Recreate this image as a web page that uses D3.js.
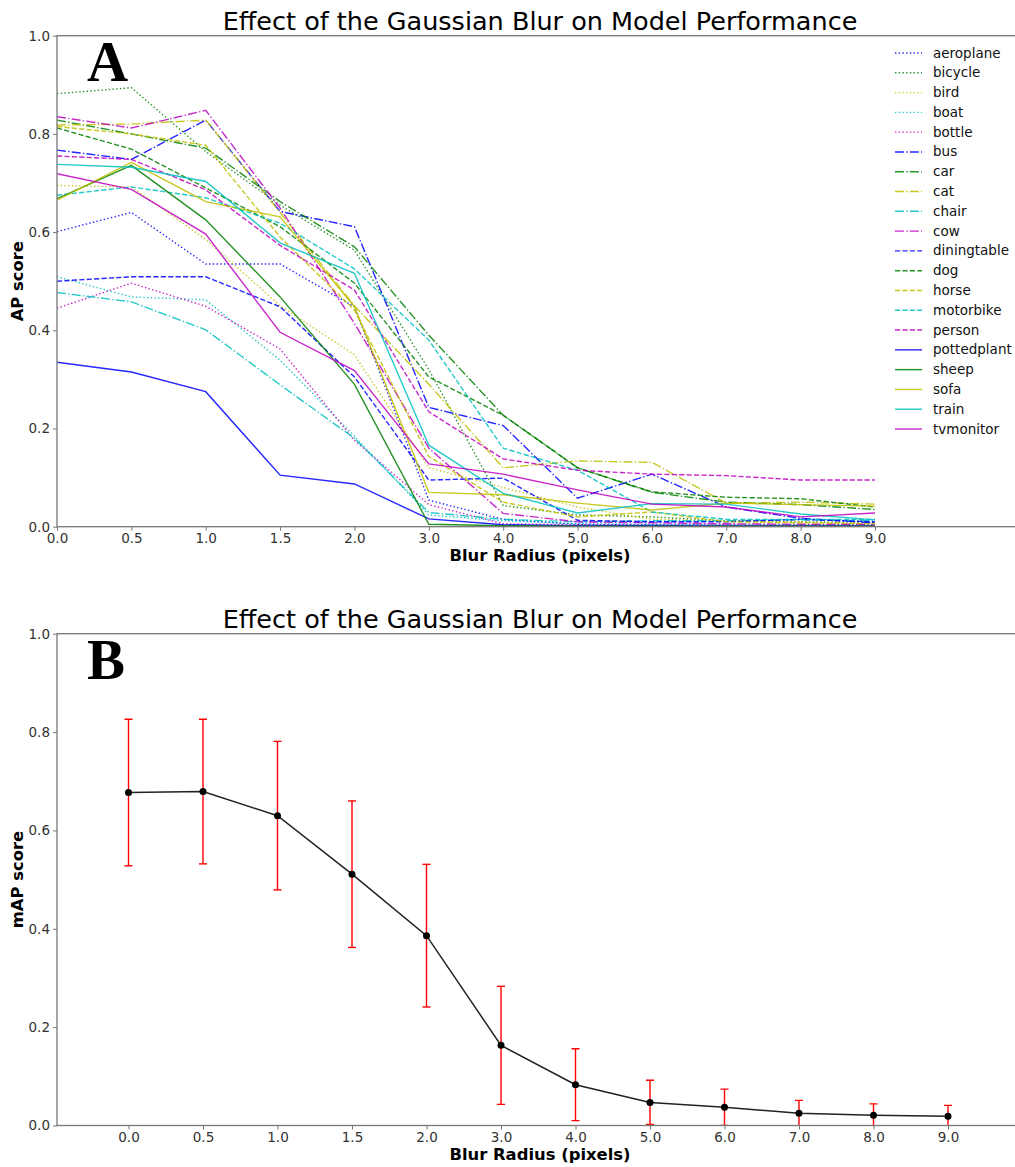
<!DOCTYPE html>
<html>
<head>
<meta charset="utf-8">
<script src="https://cdn.jsdelivr.net/npm/d3@7"></script>
<style>
  html, body { margin: 0; padding: 0; background: #fff; }
  svg { display: block; font-family: "DejaVu Sans", sans-serif; }
</style>
</head>
<body>
<svg id="chart" width="1015" height="1167"></svg>
<script>
// ---------- DATA ----------
const blurLabels = ["0.0","0.5","1.0","1.5","2.0","3.0","4.0","5.0","6.0","7.0","8.0","9.0"];
const yTicks = [0.0, 0.2, 0.4, 0.6, 0.8, 1.0];

const classNames = ["aeroplane","bicycle","bird","boat","bottle","bus","car","cat","chair","cow",
  "diningtable","dog","horse","motorbike","person","pottedplant","sheep","sofa","train","tvmonitor"];

const aeroplane   = [0.601,0.640,0.535,0.535,0.448,0.054,0.015,0.005,0.004,0.003,0.003,0.003];
const bicycle     = [0.882,0.894,0.764,0.655,0.563,0.320,0.043,0.024,0.020,0.012,0.010,0.008];
const bird        = [0.695,0.692,0.585,0.450,0.350,0.120,0.080,0.040,0.015,0.012,0.010,0.008];
const boat        = [0.509,0.468,0.462,0.339,0.184,0.024,0.012,0.006,0.005,0.004,0.004,0.003];
const bottle      = [0.445,0.496,0.449,0.362,0.176,0.045,0.006,0.004,0.003,0.003,0.002,0.002];
const bus         = [0.767,0.748,0.828,0.642,0.611,0.243,0.206,0.058,0.107,0.040,0.017,0.008];
const car         = [0.828,0.800,0.771,0.662,0.570,0.390,0.227,0.120,0.070,0.050,0.045,0.035];
const cat         = [0.818,0.820,0.828,0.640,0.450,0.290,0.120,0.134,0.131,0.048,0.050,0.046];
const chair       = [0.477,0.458,0.401,0.289,0.180,0.029,0.015,0.010,0.012,0.012,0.014,0.012];
const cow         = [0.835,0.812,0.848,0.649,0.414,0.160,0.027,0.010,0.008,0.006,0.005,0.005];
const diningtable = [0.500,0.509,0.509,0.448,0.305,0.095,0.099,0.013,0.010,0.010,0.015,0.010];
const dog         = [0.812,0.769,0.690,0.611,0.496,0.305,0.227,0.120,0.071,0.060,0.057,0.040];
const horse       = [0.815,0.800,0.777,0.590,0.441,0.143,0.050,0.020,0.030,0.010,0.008,0.006];
const motorbike   = [0.675,0.692,0.670,0.618,0.525,0.380,0.160,0.115,0.030,0.015,0.015,0.015];
const person      = [0.755,0.748,0.686,0.573,0.482,0.234,0.138,0.115,0.107,0.104,0.095,0.095];
const pottedplant = [0.335,0.315,0.275,0.105,0.087,0.016,0.004,0.002,0.002,0.001,0.001,0.001];
const sheep       = [0.668,0.736,0.625,0.468,0.290,0.005,0.002,0.001,0.001,0.001,0.001,0.001];
const sofa        = [0.665,0.742,0.662,0.631,0.448,0.070,0.065,0.048,0.034,0.048,0.045,0.042];
const train       = [0.738,0.732,0.703,0.578,0.516,0.166,0.068,0.028,0.047,0.046,0.026,0.014];
const tvmonitor   = [0.719,0.687,0.596,0.396,0.318,0.128,0.107,0.075,0.046,0.040,0.020,0.028];

const seriesValues = [aeroplane,bicycle,bird,boat,bottle,bus,car,cat,chair,cow,
  diningtable,dog,horse,motorbike,person,pottedplant,sheep,sofa,train,tvmonitor];

// panel B: mean AP and standard deviation
const mapMean = [0.677,0.679,0.630,0.511,0.386,0.163,0.083,0.047,0.037,0.025,0.021,0.019];
const mapStd  = [0.149,0.147,0.151,0.149,0.145,0.120,0.073,0.045,0.037,0.026,0.023,0.022];

// ---------- STYLES ----------
const palette = ["#0000ff","#008000","#bfbf00","#00bfbf","#bf00bf"];
const lw = 1.4;
const dashStyles = [
  `${1*lw},${1.65*lw}`,
  `${6.4*lw},${1.6*lw},${1*lw},${1.6*lw}`,
  `${3.7*lw},${1.6*lw}`,
  null
];

const svg = d3.select("#chart");
const spineColor = "#777";
const tickTextColor = "#333";
const title = "Effect of the Gaussian Blur on Model Performance";

function drawPanel(cfg) {
  const g = svg.append("g");
  const x = d3.scalePoint().domain(blurLabels).range(cfg.xRange);
  const y = d3.scaleLinear().domain([0, 1]).range([cfg.bottom, cfg.top]);

  const clipId = "clip" + cfg.id;
  svg.append("clipPath").attr("id", clipId)
    .append("rect").attr("x", cfg.left).attr("y", cfg.top)
    .attr("width", cfg.right - cfg.left).attr("height", cfg.bottom - cfg.top);

  // Title
  g.append("text").attr("x", (cfg.left + cfg.right) / 2).attr("y", cfg.top - 6)
    .attr("text-anchor", "middle").attr("font-size", 25.5).attr("fill", "#000").text(title);

  // axes
  const xAxis = d3.axisBottom(x).tickSize(4).tickSizeOuter(0).tickPadding(3);
  const xa = g.append("g").attr("transform", `translate(0,${cfg.bottom})`).call(xAxis);
  const yAxis = d3.axisLeft(y).tickValues(yTicks).tickFormat(d3.format(".1f")).tickSize(4).tickSizeOuter(0).tickPadding(3);
  const ya = g.append("g").attr("transform", `translate(${cfg.left},0)`).call(yAxis);
  [xa, ya].forEach(a => {
    a.attr("font-family", null).attr("font-size", null);
    a.select(".domain").remove();
    a.selectAll(".tick line").attr("stroke", spineColor).attr("stroke-width", 1);
    a.selectAll(".tick text").attr("font-size", 13.5).attr("fill", tickTextColor);
  });

  const plot = g.append("g").attr("clip-path", `url(#${clipId})`);
  cfg.draw(plot, x, y);

  // spines (left, top, bottom; right falls outside the picture)
  g.append("rect").attr("x", cfg.left).attr("y", cfg.top)
    .attr("width", cfg.right - cfg.left).attr("height", cfg.bottom - cfg.top)
    .attr("fill", "none").attr("stroke", spineColor).attr("stroke-width", 1.3);

  // panel letter
  g.append("text").attr("x", 87).attr("y", cfg.top + 45)
    .style("font-family", "'Liberation Serif', 'DejaVu Serif', serif")
    .attr("font-weight", "bold").attr("font-size", 57).attr("fill", "#000").text(cfg.letter);

  // axis labels
  g.append("text").attr("x", (cfg.left + cfg.right) / 2).attr("y", cfg.bottom + 34)
    .attr("text-anchor", "middle").attr("font-size", 16.4).attr("font-weight", "bold")
    .text("Blur Radius (pixels)");
  g.append("text")
    .attr("transform", `translate(23,${(cfg.top + cfg.bottom) / 2}) rotate(-90)`)
    .attr("text-anchor", "middle").attr("font-size", 16.4).attr("font-weight", "bold")
    .text(cfg.ylabel);
  return {x, y};
}

// ---------- PANEL A ----------
drawPanel({
  id: "A", letter: "A", ylabel: "AP score",
  left: 57, right: 1023, top: 35.7, bottom: 526.7,
  xRange: [57, 875],
  draw: (plot, x, y) => {
    const line = d3.line().x((d, i) => x(blurLabels[i])).y(d => y(d));
    classNames.forEach((name, k) => {
      const color = palette[k % 5];
      const dash = dashStyles[Math.floor(k / 5)];
      plot.append("path").datum(seriesValues[k])
        .attr("d", line).attr("fill", "none")
        .attr("stroke", color).attr("stroke-opacity", 0.85)
        .attr("stroke-width", lw)
        .attr("stroke-dasharray", dash);
    });
  }
});

// legend A
const legend = svg.append("g");
const legendY = d3.scalePoint().domain(classNames).range([53, 429]);
classNames.forEach((name, k) => {
  const yy = legendY(name);
  legend.append("line").attr("x1", 895).attr("x2", 922).attr("y1", yy).attr("y2", yy)
    .attr("stroke", palette[k % 5]).attr("stroke-opacity", 0.85)
    .attr("stroke-width", lw).attr("stroke-dasharray", dashStyles[Math.floor(k / 5)]);
  legend.append("text").attr("x", 933).attr("y", yy + 4.5)
    .attr("font-size", 13.5).attr("fill", "#111").text(name);
});

// ---------- PANEL B ----------
drawPanel({
  id: "B", letter: "B", ylabel: "mAP score",
  left: 57, right: 1023, top: 633.7, bottom: 1125.5,
  xRange: [128.5, 948],
  draw: (plot, x, y) => {
    const capW = 4;
    mapMean.forEach((m, i) => {
      const cx = x(blurLabels[i]);
      const lo = m - mapStd[i], hi = m + mapStd[i];
      plot.append("line").attr("x1", cx).attr("x2", cx).attr("y1", y(lo)).attr("y2", y(hi))
        .attr("stroke", "#ff0000").attr("stroke-width", 1.4);
      [lo, hi].forEach(v => {
        plot.append("line").attr("x1", cx - capW).attr("x2", cx + capW)
          .attr("y1", y(v)).attr("y2", y(v))
          .attr("stroke", "#ff0000").attr("stroke-width", 1.4);
      });
    });
    const line = d3.line().x((d, i) => x(blurLabels[i])).y(d => y(d));
    plot.append("path").datum(mapMean).attr("d", line).attr("fill", "none")
      .attr("stroke", "#222").attr("stroke-width", 1.5);
    plot.selectAll("circle.pt").data(mapMean).enter().append("circle")
      .attr("cx", (d, i) => x(blurLabels[i])).attr("cy", d => y(d)).attr("r", 3.5)
      .attr("fill", "#000");
  }
});
</script>
</body>
</html>
